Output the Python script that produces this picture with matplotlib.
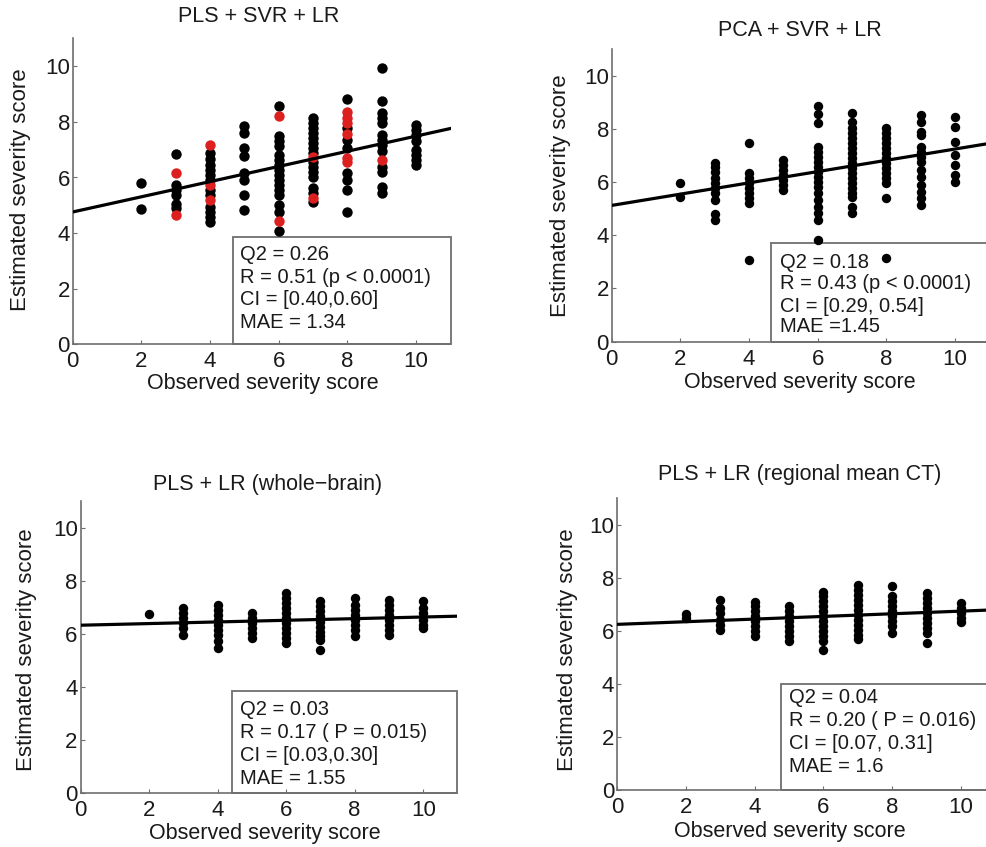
import matplotlib
matplotlib.use("Agg")
import matplotlib.pyplot as plt
from matplotlib.patches import Rectangle
import numpy as np

plt.rcParams['font.family'] = ['Liberation Sans', 'DejaVu Sans']

W, H = 987, 847

obs_levels = [2, 3, 4, 5, 6, 7, 8, 9, 10]

# Panel 1: PLS + SVR + LR (black and red points)
p1_black = [
    [5.79, 4.87],
    [6.85, 5.73, 5.55, 5.37, 5.05, 4.89],
    [6.88, 6.67, 6.45, 6.27, 6.09, 5.91, 5.55, 5.37, 4.95, 4.77, 4.59, 4.41],
    [7.84, 7.60, 7.06, 6.76, 6.15, 5.91, 5.37, 4.83],
    [8.56, 7.48, 7.30, 7.12, 6.81, 6.63, 6.45, 6.27, 6.09, 5.91, 5.73, 5.55, 5.37, 5.01, 4.77, 4.07],
    [8.14, 7.96, 7.78, 7.60, 7.42, 7.24, 7.06, 6.88, 6.57, 6.39, 6.21, 6.03, 5.61, 5.43, 5.11],
    [8.83, 7.78, 7.36, 7.06, 6.15, 5.91, 5.55, 4.77],
    [9.94, 8.74, 8.32, 8.14, 7.96, 7.54, 7.36, 7.18, 6.94, 6.39, 6.21, 5.67, 5.43],
    [7.90, 7.72, 7.54, 7.30, 7.00, 6.82, 6.63, 6.45],
]
p1_red = [
    [],
    [6.15, 4.65],
    [7.18, 5.73, 5.19],
    [],
    [8.23, 4.44],
    [6.75, 5.25],
    [8.35, 8.14, 7.96, 7.56, 6.69, 6.57],
    [6.63],
    [],
]

# Panel 2: PCA + SVR + LR
p2_est = [
    [5.95, 5.45],
    [6.73, 6.58, 6.39, 6.14, 5.95, 5.76, 5.57, 5.32, 4.80, 4.57],
    [7.48, 6.33, 6.14, 5.95, 5.76, 5.57, 5.39, 5.20, 3.05],
    [6.83, 6.64, 6.45, 6.26, 6.07, 5.89, 5.70],
    [8.86, 8.54, 8.20, 7.33, 7.14, 6.95, 6.76, 6.58, 6.39, 6.20, 6.01, 5.82, 5.57, 5.32, 5.07, 4.82, 4.57, 3.82],
    [8.58, 8.27, 8.02, 7.83, 7.64, 7.45, 7.27, 7.08, 6.89, 6.70, 6.51, 6.33, 6.14, 5.95, 5.76, 5.57, 5.45, 5.07, 4.82],
    [8.02, 7.83, 7.64, 7.45, 7.27, 7.08, 6.89, 6.70, 6.51, 6.33, 6.14, 5.95, 5.39, 3.15],
    [8.52, 8.27, 7.89, 7.77, 7.33, 7.14, 6.95, 6.76, 6.45, 6.20, 5.89, 5.64, 5.39, 5.13],
    [8.43, 8.08, 7.52, 7.01, 6.64, 6.26, 6.01],
]

# Panel 3: PLS + LR (whole-brain)
p3_est = [
    [6.75],
    [6.97, 6.78, 6.59, 6.40, 6.21, 5.96],
    [7.09, 6.91, 6.72, 6.53, 6.34, 6.15, 5.96, 5.71, 5.46],
    [6.78, 6.59, 6.40, 6.21, 6.02, 5.84],
    [7.53, 7.35, 7.16, 6.97, 6.78, 6.59, 6.40, 6.21, 6.02, 5.84, 5.65],
    [7.22, 7.03, 6.84, 6.65, 6.46, 6.27, 6.08, 5.90, 5.77, 5.40],
    [7.35, 7.09, 6.91, 6.72, 6.53, 6.34, 6.15, 5.90],
    [7.28, 7.09, 6.91, 6.72, 6.53, 6.34, 6.15, 5.96],
    [7.22, 6.97, 6.78, 6.53, 6.34, 6.21],
]

# Panel 4: PLS + LR (regional mean CT)
p4_est = [
    [6.65, 6.49],
    [7.18, 6.87, 6.68, 6.43, 6.24, 6.05],
    [7.08, 6.93, 6.74, 6.55, 6.36, 6.18, 5.99, 5.80],
    [6.93, 6.74, 6.55, 6.36, 6.18, 5.99, 5.80, 5.61],
    [7.47, 7.31, 7.12, 6.93, 6.74, 6.55, 6.36, 6.18, 5.99, 5.80, 5.61, 5.30],
    [7.75, 7.56, 7.37, 7.18, 6.99, 6.81, 6.62, 6.43, 6.24, 6.05, 5.86, 5.71],
    [7.69, 7.31, 7.12, 6.93, 6.74, 6.55, 6.36, 6.18, 5.92],
    [7.43, 7.25, 7.06, 6.87, 6.68, 6.49, 6.30, 6.11, 5.92, 5.55],
    [7.06, 6.87, 6.68, 6.49, 6.33],
]

# fitted lines: intercept, slope
fit_intercepts = [4.76, 5.12, 6.32, 6.25]
fit_slopes = [0.273, 0.212, 0.031, 0.050]

titles = ["PLS + SVR + LR", "PCA + SVR + LR",
          "PLS + LR (whole\u2212brain)", "PLS + LR (regional mean CT)"]
stats_text = [
    ["Q2 = 0.26", "R = 0.51 (p < 0.0001)", "CI = [0.40,0.60]", "MAE = 1.34"],
    ["Q2 = 0.18", "R = 0.43 (p < 0.0001)", "CI = [0.29, 0.54]", "MAE =1.45"],
    ["Q2 = 0.03", "R = 0.17 ( P = 0.015)", "CI = [0.03,0.30]", "MAE = 1.55"],
    ["Q2 = 0.04", "R = 0.20 ( P = 0.016)", "CI = [0.07, 0.31]", "MAE = 1.6"],
]
xlabel = "Observed severity score"
ylabel = "Estimated severity score"
ticks = [0, 2, 4, 6, 8, 10]


def expand(groups):
    xs, ys = [], []
    for lvl, vals in zip(obs_levels, groups):
        xs += [lvl] * len(vals)
        ys += vals
    return np.array(xs), np.array(ys)


fig = plt.figure(figsize=(W / 100, H / 100), dpi=100)


def px_axes(x0, x1, y_bottom, y_top):
    return fig.add_axes([x0 / W, 1 - y_bottom / H, (x1 - x0) / W, (y_bottom - y_top) / H])


# axes extents in pixels (left, right, bottom, top)
axes_px = [
    (72.7, 450.5, 344.3, 38.5),
    (611.7, 989.5, 341.6, 49.0),
    (80.5, 457.5, 792.7, 501.2),
    (617.0, 995.4, 790.0, 498.5),
]
box_pos = [  # left, top (axes fraction)
    (0.424, 0.351), (0.422, 0.337), (0.403, 0.349), (0.433, 0.364)]
text_left = [0.443, 0.446, 0.424, 0.455]
text_rows = [
    [0.295, 0.220, 0.145, 0.072],
    [0.272, 0.197, 0.121, 0.050],
    [0.284, 0.205, 0.126, 0.050],
    [0.319, 0.240, 0.161, 0.082],
]
title_px = [(259, 17), (800, 30), (268, 484), (800, 474)]
xlabel_px = [(263, 384), (800, 382), (265, 833), (790, 831)]
ylabel_px = [(21, 190), (561, 196), (27, 650), (567, 650)]
msize = [56, 46, 46, 46]

panels = [(p1_black, p1_red), (p2_est, None), (p3_est, None), (p4_est, None)]

spine_col = '#6e6e6e'
for i, (ax_px, (black, red)) in enumerate(zip(axes_px, panels)):
    ax = px_axes(*ax_px)
    ax.set_xlim(0, 11)
    ax.set_ylim(0, 11)
    for s in ['top', 'right']:
        ax.spines[s].set_visible(False)
    for s in ['left', 'bottom']:
        ax.spines[s].set_color(spine_col)
        ax.spines[s].set_linewidth(1.2)
    ax.set_xticks(ticks)
    ax.set_yticks(ticks)
    ax.tick_params(direction='in', length=3, color=spine_col, labelsize=16,
                   labelcolor='#1a1a1a')
    ax.tick_params(axis='y', pad=2)
    ax.tick_params(axis='x', pad=5)
    ax.patch.set_alpha(0)

    xs, ys = expand(black)
    ax.scatter(xs, ys, s=msize[i], color='black', zorder=3, linewidths=0)
    if red is not None:
        xr, yr = expand(red)
        ax.scatter(xr, yr, s=msize[i], color='#dc1f1f', zorder=4, linewidths=0)

    xl = np.array([0, 11.5])
    ax.plot(xl, fit_intercepts[i] + fit_slopes[i] * xl, color='black', lw=2.3,
            zorder=5, clip_on=True)

    bl, bt = box_pos[i]
    ax.add_patch(Rectangle((bl, 0), 1.0 - bl, bt, transform=ax.transAxes,
                           fill=False, edgecolor=spine_col, lw=1.3, zorder=2,
                           clip_on=False))
    for txt, yy in zip(stats_text[i], text_rows[i]):
        ax.text(text_left[i], yy, txt, transform=ax.transAxes, fontsize=14.5,
                va='center', ha='left', color='#1a1a1a', zorder=6)

    tx, ty = title_px[i]
    fig.text(tx / W, 1 - ty / H, titles[i], ha='center', va='center',
             fontsize=15.5, color='#1a1a1a')
    lx, ly = xlabel_px[i]
    fig.text(lx / W, 1 - ly / H, xlabel, ha='center', va='center',
             fontsize=15.5, color='#1a1a1a')
    yx, yy = ylabel_px[i]
    fig.text(yx / W, 1 - yy / H, ylabel, ha='center', va='center',
             rotation=90, fontsize=16, color='#1a1a1a')

fig.savefig("out.png", dpi=100)
